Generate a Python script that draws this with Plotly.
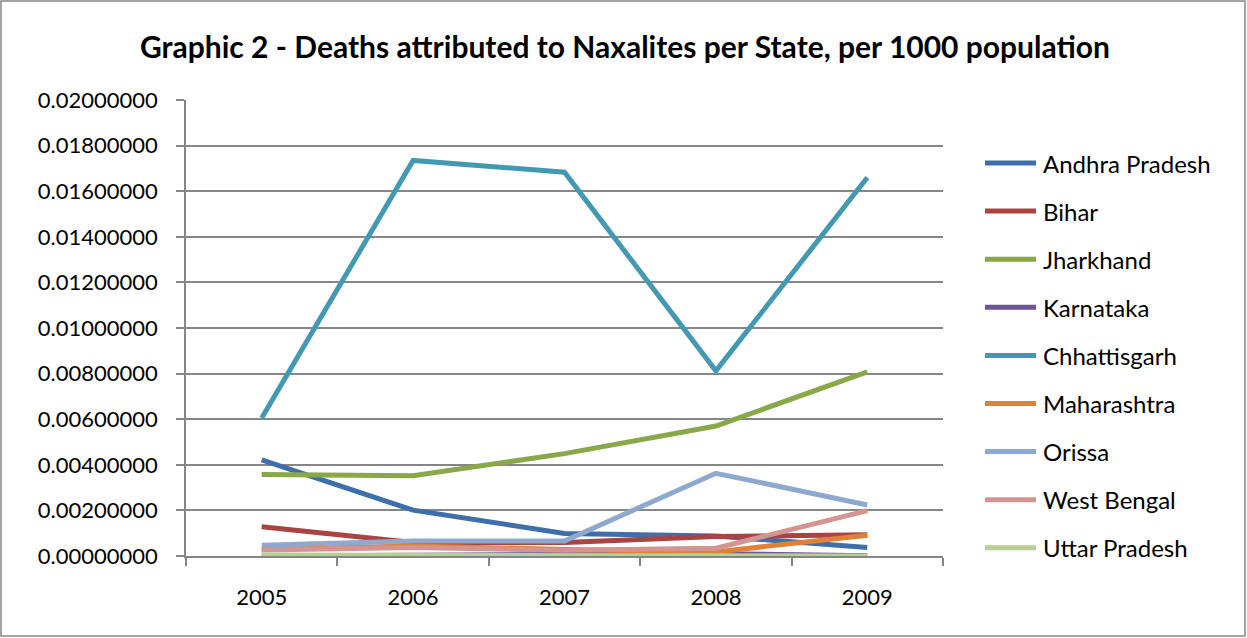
import plotly.graph_objects as go

years = ["2005", "2006", "2007", "2008", "2009"]
states = ["Andhra Pradesh", "Bihar", "Jharkhand", "Karnataka", "Chhattisgarh",
          "Maharashtra", "Orissa", "West Bengal", "Uttar Pradesh"]
andhra = [0.00422, 0.00201, 0.00099, 0.00088, 0.00037]
bihar = [0.00128, 0.00059, 0.00059, 0.00086, 0.00093]
jharkhand = [0.00358, 0.00352, 0.00449, 0.00570, 0.00808]
karnataka = [0.00000, 0.00002, 0.00003, 0.00010, 0.00001]
chhattisgarh = [0.00605, 0.01735, 0.01683, 0.00812, 0.01660]
maharashtra = [0.00029, 0.00044, 0.00029, 0.00018, 0.00091]
orissa = [0.00047, 0.00066, 0.00066, 0.00363, 0.00224]
west_bengal = [0.00026, 0.00037, 0.00025, 0.00034, 0.00199]
uttar_pradesh = [0.00004, 0.00004, 0.00003, 0.00003, 0.00000]
series = [andhra, bihar, jharkhand, karnataka, chhattisgarh,
          maharashtra, orissa, west_bengal, uttar_pradesh]
colors = ["#3F6FAA", "#A94442", "#88A84A", "#6E5494", "#4299B1",
          "#DF8236", "#8FA9CE", "#D49491", "#B6CF94"]

FONT = "Lato, Open Sans, sans-serif"
L, R, T, B = 186, 304, 100, 82
W, H = 1247, 638
pw, ph = W - L - R, H - T - B

def px_x(p):
    return (p - L) / pw

def px_y(p):
    return (H - B - p) / ph

fig = go.Figure()
for name, vals, c in zip(states, series, colors):
    fig.add_trace(go.Scatter(x=years, y=vals, name=name, mode="lines",
                             line=dict(color=c, width=5), showlegend=False))

# legend drawn as line samples + text
for i, (name, c) in enumerate(zip(states, colors)):
    yc = 163 + 48.1 * i
    fig.add_shape(type="line", xref="paper", yref="paper",
                  x0=px_x(985), x1=px_x(1036), y0=px_y(yc), y1=px_y(yc),
                  line=dict(color=c, width=5))
    fig.add_annotation(text=name, xref="paper", yref="paper",
                       x=px_x(1041), y=px_y(yc), xanchor="left", yanchor="middle",
                       showarrow=False, font=dict(size=24, family=FONT, color="black"))

fig.update_layout(
    width=W, height=H,
    margin=dict(l=L, r=R, t=T, b=B),
    paper_bgcolor="white", plot_bgcolor="white",
    font=dict(family=FONT, size=22, color="black"),
    title=dict(text="<b>Graphic 2 - Deaths attributed to Naxalites per State, per 1000 population</b>",
               x=625 / W, xanchor="center", y=1 - 47 / H, yanchor="middle",
               font=dict(size=30, family=FONT)),
    xaxis=dict(type="category", range=[-0.5, 4.5], showgrid=False, showline=True,
               linecolor="#868686", linewidth=1.5,
               ticks="outside", tickson="boundaries", ticklen=8, tickcolor="#868686", tickwidth=1.5,
               tickfont=dict(size=22), ticklabelstandoff=21),
    yaxis=dict(range=[0, 0.02], dtick=0.002, tickformat=".8f", showgrid=True,
               gridcolor="#868686", gridwidth=1.5, showline=True, linecolor="#868686", linewidth=1.5,
               ticks="outside", ticklen=8, tickcolor="#868686", tickwidth=1.5,
               zeroline=False, tickfont=dict(size=22), ticklabelstandoff=14),
    showlegend=False,
)
fig.add_shape(type="rect", xref="paper", yref="paper",
              x0=px_x(1), x1=px_x(1245), y0=px_y(636), y1=px_y(1),
              line=dict(color="#868686", width=1.5), fillcolor="rgba(0,0,0,0)", layer="below")
fig.write_html("out.html", config={"displayModeBar": False},
               post_script="document.body.style.margin='0';")
